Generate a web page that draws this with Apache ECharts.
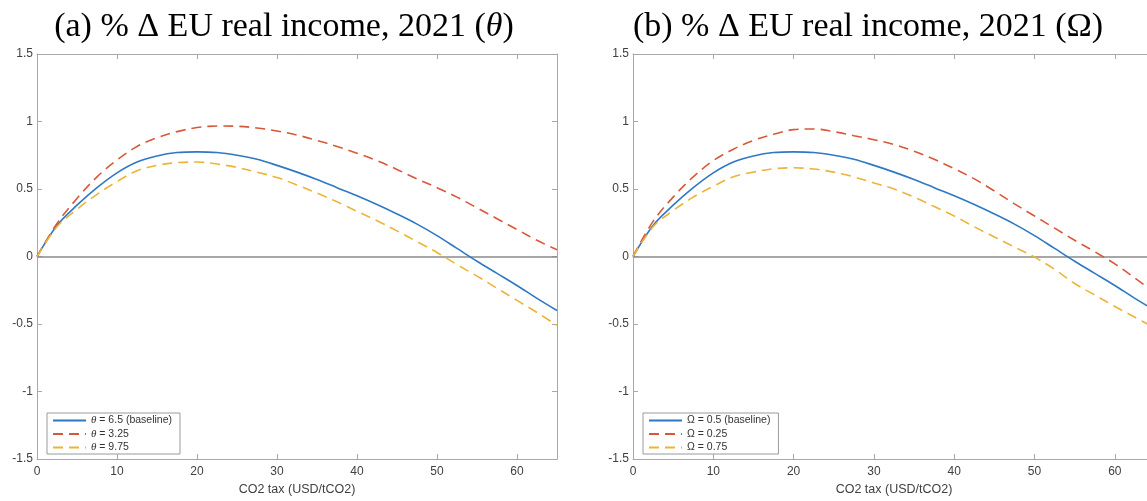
<!DOCTYPE html>
<html>
<head>
<meta charset="utf-8">
<script src="https://cdn.jsdelivr.net/npm/echarts@6/dist/echarts.min.js"></script>
<style>
html,body{margin:0;padding:0;background:#fff;overflow:hidden;width:1147px;height:501px;}
#chart{width:1170px;height:501px;}
</style>
</head>
<body>
<div id="chart"></div>
<script>
// CO2 tax levels (USD/tCO2)
const taxLevels = [0,2.5,5,7.5,10,12.5,15,17.5,20,22.5,25,27.5,30,32.5,35,37.5,40,42.5,45,47.5,50,52.5,55,57.5,60,62.5,65];

// Panel (a): theta
const thetaBaseline = [0,0.23,0.38,0.51,0.62,0.70,0.745,0.77,0.775,0.77,0.75,0.72,0.675,0.625,0.57,0.51,0.45,0.385,0.315,0.24,0.155,0.06,-0.035,-0.125,-0.215,-0.31,-0.40];
const theta325 = [0,0.245,0.43,0.59,0.715,0.815,0.88,0.925,0.955,0.967,0.965,0.952,0.93,0.90,0.86,0.815,0.765,0.71,0.645,0.575,0.51,0.44,0.36,0.28,0.20,0.12,0.05];
const theta975 = [0,0.22,0.35,0.46,0.555,0.635,0.675,0.695,0.70,0.685,0.66,0.625,0.585,0.53,0.47,0.405,0.335,0.265,0.19,0.11,0.03,-0.06,-0.145,-0.235,-0.325,-0.415,-0.51];

// Panel (b): Omega
const omegaBaseline = [0,0.23,0.38,0.51,0.62,0.70,0.745,0.77,0.775,0.77,0.75,0.72,0.675,0.625,0.57,0.51,0.45,0.385,0.315,0.24,0.155,0.06,-0.035,-0.125,-0.215,-0.31,-0.40];
const omega025 = [0,0.26,0.44,0.59,0.71,0.795,0.86,0.905,0.94,0.945,0.925,0.895,0.865,0.83,0.78,0.72,0.65,0.575,0.485,0.39,0.30,0.21,0.12,0.035,-0.055,-0.16,-0.27];
const omega075 = [0,0.22,0.34,0.44,0.52,0.59,0.625,0.65,0.657,0.648,0.625,0.59,0.545,0.50,0.44,0.37,0.30,0.22,0.145,0.07,-0.005,-0.095,-0.2,-0.285,-0.37,-0.45,-0.53];

const xTicks = [0,10,20,30,40,50,60];
const yTicks = [-1.5,-1,-0.5,0,0.5,1,1.5];

const seriesNamesA = ['θ = 6.5 (baseline)','θ = 3.25','θ = 9.75'];
const seriesNamesB = ['Ω = 0.5 (baseline)','Ω = 0.25','Ω = 0.75'];

const COL_BLUE = '#2f78c4', COL_RED = '#d8593a', COL_YEL = '#ecb43a';
const AXC = '#a8a8a8';
const LBL = '#404040';
const SANS = 'Liberation Sans, Arial, Helvetica, sans-serif';

function pairs(vals){ return taxLevels.map((t,i)=>[t, vals[i]]); }

function xAx(gi, top){
  return {
    type:'value', gridIndex:gi, min:0, max:65, interval:10,
    position: top ? 'top' : 'bottom',
    axisLine:{show:true, onZero:false, lineStyle:{color:AXC, width:1}},
    axisTick:{show:true, inside:true, length:5, lineStyle:{color:AXC}},
    axisLabel:{show:!top, color:LBL, fontSize:12, fontFamily:SANS, margin:7,
      formatter: v => (xTicks.indexOf(v) >= 0 ? String(v) : '')},
    splitLine:{show:false},
    name: top ? '' : 'CO2 tax (USD/tCO2)',
    nameLocation:'middle', nameGap:24,
    nameTextStyle:{color:LBL, fontSize:12.5, fontFamily:SANS}
  };
}
function yAx(gi, right){
  return {
    type:'value', gridIndex:gi, min:-1.5, max:1.5, interval:0.5,
    position: right ? 'right' : 'left',
    axisLine:{show:true, onZero:false, lineStyle:{color:AXC, width:1}},
    axisTick:{show:true, inside:true, length:5, lineStyle:{color:AXC}},
    axisLabel:{show:!right, color:LBL, fontSize:12, fontFamily:SANS, margin:4,
      formatter: v => (yTicks.indexOf(v) >= 0 ? String(v) : '')},
    splitLine:{show:false}
  };
}

function lineSeries(name, vals, color, dashed, xi, yi, withZero){
  const s = {
    name, type:'line', xAxisIndex:xi, yAxisIndex:yi,
    data: pairs(vals), symbol:'none', smooth:0.35,
    lineStyle:{color, width:1.6, type: dashed ? [10,6] : 'solid'},
    itemStyle:{color}, z:3
  };
  if (withZero){
    s.markLine = {
      silent:true, symbol:'none', animation:false, z:2,
      label:{show:false},
      lineStyle:{color:'#8a8a8a', width:1.5, type:'solid'},
      data:[{yAxis:0}]
    };
  }
  return s;
}

function legendFor(names, left, sym){
  return {
    data: names, orient:'vertical', left:left, top:413,
    itemWidth:33, itemHeight:10, itemGap:2.5,
    padding:[2,8,1,5],
    backgroundColor:'#fff', borderColor:'#9a9a9a', borderWidth:1,
    itemStyle:{opacity:0},
    textStyle:{color:'#333', fontSize:10.5, fontFamily:SANS, lineHeight:11,
      rich:{i:{fontStyle:'italic', fontFamily:'Liberation Serif, serif', fontSize:11, lineHeight:11, color:'#333'},
            n:{fontSize:10.5, lineHeight:11, fontFamily:SANS, color:'#333'}}},
    formatter: name => {
      const rest = name.slice(1);
      return (sym === 'i' ? '{i|' + name[0] + '}' : '{n|' + name[0] + '}') + '{n|' + rest + '}';
    }
  };
}

const chart = echarts.init(document.getElementById('chart'), null, {renderer:'canvas'});
chart.setOption({
  animation:false,
  backgroundColor:'#fff',
  grid:[
    {left:37, top:54, width:520, height:412, show:false},
    {left:633, top:54, width:522, height:412, show:false}
  ],
  xAxis:[xAx(0,false), xAx(0,true), xAx(1,false), xAx(1,true)],
  yAxis:[yAx(0,false), yAx(0,true), yAx(1,false), yAx(1,true)],
  legend:[legendFor(seriesNamesA, 47, 'i'), legendFor(seriesNamesB, 643, 'n')],
  graphic:[
    {type:'text', x:284, y:27, z:10,
      style:{text:'(a) % Δ EU real income, 2021 ({i|θ})', x:0, y:0, textAlign:'center', textVerticalAlign:'middle',
        fill:'#000', font:'34px "Liberation Serif", serif',
        rich:{i:{fontStyle:'italic', fontSize:34, fontFamily:'Liberation Serif', fill:'#000'}}}},
    {type:'text', x:868, y:27, z:10,
      style:{text:'(b) % Δ EU real income, 2021 (Ω)', x:0, y:0, textAlign:'center', textVerticalAlign:'middle',
        fill:'#000', font:'34px "Liberation Serif", serif'}}
  ],
  series:[
    lineSeries(seriesNamesA[0], thetaBaseline, COL_BLUE, false, 0, 0, true),
    lineSeries(seriesNamesA[1], theta325, COL_RED, true, 0, 0, false),
    lineSeries(seriesNamesA[2], theta975, COL_YEL, true, 0, 0, false),
    lineSeries(seriesNamesB[0], omegaBaseline, COL_BLUE, false, 2, 2, true),
    lineSeries(seriesNamesB[1], omega025, COL_RED, true, 2, 2, false),
    lineSeries(seriesNamesB[2], omega075, COL_YEL, true, 2, 2, false)
  ]
});
</script>
</body>
</html>
